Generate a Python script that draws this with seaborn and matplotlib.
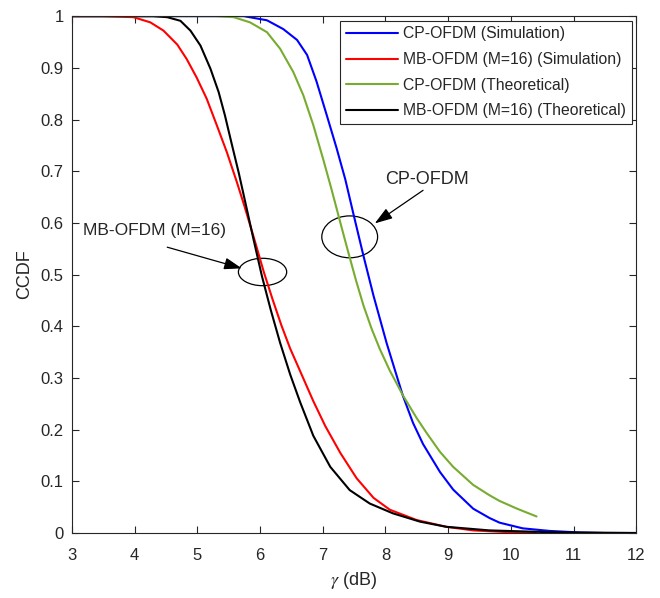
import matplotlib
matplotlib.use("Agg")
import matplotlib.pyplot as plt
from matplotlib.patches import Ellipse
import seaborn as sns
import pandas as pd

# ---- data ----
cp_sim_x = [3, 5.74, 6.11, 6.37, 6.59, 6.75, 6.90, 7.06, 7.22, 7.36, 7.49, 7.65, 7.81, 8.02,
            8.19, 8.28, 8.44, 8.60, 8.87, 9.08, 9.40, 9.66, 9.82, 10.19, 10.62, 11.1, 11.5, 12]
cp_sim_y = [1, 1, 0.992, 0.975, 0.954, 0.925, 0.874, 0.810, 0.745, 0.684, 0.617, 0.536, 0.459,
            0.367, 0.300, 0.265, 0.213, 0.172, 0.118, 0.084, 0.047, 0.029, 0.020, 0.009, 0.004,
            0.001, 0.0, 0.0]

mb_sim_x = [3, 3.5, 3.98, 4.25, 4.46, 4.68, 4.83, 4.99, 5.15, 5.31, 5.47, 5.63, 5.75, 5.90,
            6.06, 6.20, 6.34, 6.48, 6.64, 6.85, 7.04, 7.28, 7.54, 7.81, 8.07, 8.50, 8.97, 9.40,
            9.90, 10.4]
mb_sim_y = [1, 1, 0.998, 0.988, 0.972, 0.945, 0.917, 0.881, 0.840, 0.789, 0.737, 0.679, 0.633,
            0.572, 0.505, 0.452, 0.402, 0.357, 0.313, 0.255, 0.207, 0.155, 0.106, 0.068, 0.045,
            0.025, 0.012, 0.005, 0.002, 0.001]

cp_th_x = [3, 5.3, 5.58, 5.84, 6.11, 6.32, 6.53, 6.69, 6.85, 7.01, 7.14, 7.33, 7.41, 7.53,
           7.65, 7.78, 7.91, 8.07, 8.15, 8.28, 8.50, 8.66, 8.87, 9.08, 9.40, 9.66, 9.82, 10.1,
           10.41]
cp_th_y = [1, 1, 0.998, 0.988, 0.969, 0.937, 0.892, 0.847, 0.789, 0.722, 0.665, 0.578, 0.542,
           0.489, 0.440, 0.395, 0.356, 0.314, 0.296, 0.266, 0.222, 0.193, 0.157, 0.128, 0.093,
           0.073, 0.062, 0.047, 0.032]

mb_th_x = [3, 4.0, 4.30, 4.52, 4.73, 4.89, 5.05, 5.21, 5.34, 5.44, 5.55, 5.66, 5.75, 5.90,
           6.03, 6.17, 6.32, 6.48, 6.64, 6.85, 7.12, 7.43, 7.75, 8.12, 8.55, 8.97, 9.66, 10.5,
           11, 12]
mb_th_y = [1, 1, 1.0, 0.998, 0.991, 0.972, 0.943, 0.898, 0.853, 0.808, 0.752, 0.697, 0.648,
           0.566, 0.497, 0.432, 0.368, 0.307, 0.253, 0.188, 0.128, 0.083, 0.057, 0.038, 0.022,
           0.012, 0.005, 0.002, 0.001, 0.0]

series_labels = ["CP-OFDM (Simulation)", "MB-OFDM (M=16) (Simulation)",
                 "CP-OFDM (Theoretical)", "MB-OFDM (M=16) (Theoretical)"]
series_colors = ["#0000FF", "#FF0000", "#77AC30", "#000000"]

x_ticks = [3, 4, 5, 6, 7, 8, 9, 10, 11, 12]
y_ticks = [0, 0.1, 0.2, 0.3, 0.4, 0.5, 0.6, 0.7, 0.8, 0.9, 1]
y_tick_labels = ["0", "0.1", "0.2", "0.3", "0.4", "0.5", "0.6", "0.7", "0.8", "0.9", "1"]

# ---- figure ----
sns.set_theme(style="ticks")
plt.rcParams["font.family"] = ["Liberation Sans", "DejaVu Sans"]
plt.rcParams["mathtext.fontset"] = "stix"

fig = plt.figure(figsize=(6.6, 5.98), dpi=100)
ax = fig.add_axes([0.109, 0.1087, 0.855, 0.8643])

xs = [cp_sim_x, mb_sim_x, cp_th_x, mb_th_x]
ys = [cp_sim_y, mb_sim_y, cp_th_y, mb_th_y]
for xv, yv, lab, col in zip(xs, ys, series_labels, series_colors):
    df = pd.DataFrame({"x": xv, "y": yv})
    sns.lineplot(data=df, x="x", y="y", ax=ax, color=col, lw=1.5, label=lab,
                 sort=False, estimator=None)

ax.set_xlim(3, 12)
ax.set_ylim(0, 1)
ax.set_xticks(x_ticks)
ax.set_xticklabels([str(t) for t in x_ticks])
ax.set_yticks(y_ticks)
ax.set_yticklabels(y_tick_labels)
ax.tick_params(direction="in", top=True, right=True, length=5, width=0.8,
               labelsize=12, colors="#262626")
ax.tick_params(axis="x", pad=11)
ax.tick_params(axis="y", pad=6)
for s in ax.spines.values():
    s.set_visible(True)
    s.set_linewidth(0.8)
    s.set_color("#262626")

ax.set_xlabel(r"$\gamma$ (dB)", fontsize=13, color="#262626", labelpad=5)
ax.set_ylabel("CCDF", fontsize=13, color="#262626", labelpad=5)

leg = ax.legend(loc="upper right", fontsize=11.3, frameon=True, fancybox=False,
                edgecolor="#262626", framealpha=1, handlelength=3.3, borderpad=0.35,
                labelspacing=0.68, borderaxespad=0.3, handletextpad=0.35)
leg.get_frame().set_linewidth(0.8)

# annotations
ax.add_patch(Ellipse((7.43, 0.573), 0.89, 0.081, fill=False, ec="black", lw=0.9))
ax.add_patch(Ellipse((6.04, 0.505), 0.77, 0.053, fill=False, ec="black", lw=0.9))
ax.annotate("", xy=(7.83, 0.599), xytext=(8.60, 0.663),
            arrowprops=dict(arrowstyle="-|>,head_length=0.9,head_width=0.3",
                            color="black", lw=0.9, shrinkA=0, shrinkB=0))
ax.text(8.67, 0.683, "CP-OFDM", ha="center", va="center", fontsize=13)
ax.annotate("", xy=(5.71, 0.512), xytext=(4.52, 0.553),
            arrowprops=dict(arrowstyle="-|>,head_length=0.9,head_width=0.3",
                            color="black", lw=0.9, shrinkA=0, shrinkB=0))
ax.text(4.31, 0.586, "MB-OFDM (M=16)", ha="center", va="center", fontsize=12.5)

fig.savefig("out.png", dpi=100)
